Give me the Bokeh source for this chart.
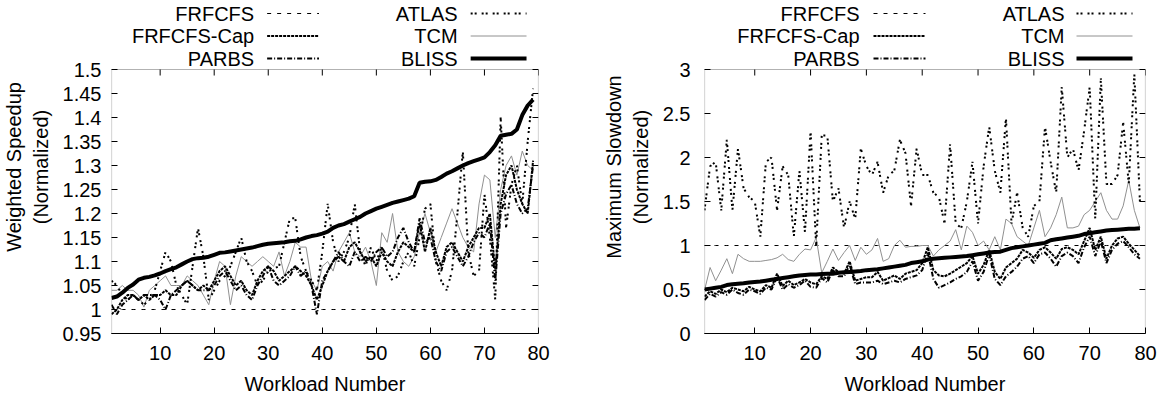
from bokeh.plotting import figure
from bokeh.models import Range1d, FixedTicker, BoxAnnotation, ColumnDataSource
from bokeh.core.properties import value
from bokeh.layouts import row
from bokeh.embed import file_html
from bokeh.resources import INLINE

FONT = "Liberation Sans"
FS = "20px"

workloads = list(range(1, 80))
x_ticks = [10, 20, 30, 40, 50, 60, 70, 80]

ws_ticks = [0.95, 1.0, 1.05, 1.1, 1.15, 1.2, 1.25, 1.3, 1.35, 1.4, 1.45, 1.5]
ws_tick_labels = ["0.95", "1", "1.05", "1.1", "1.15", "1.2", "1.25", "1.3", "1.35", "1.4", "1.45", "1.5"]
ms_ticks = [0, 0.5, 1, 1.5, 2, 2.5, 3]
ms_tick_labels = ["0", "0.5", "1", "1.5", "2", "2.5", "3"]

# ---------------- Weighted speedup (normalized) ----------------
ws_frfcfs = [1.0, 1.0, 1.0, 1.0, 1.0, 1.0, 1.0, 1.0, 1.0, 1.0,
             1.0, 1.0, 1.0, 1.0, 1.0, 1.0, 1.0, 1.0, 1.0, 1.0,
             1.0, 1.0, 1.0, 1.0, 1.0, 1.0, 1.0, 1.0, 1.0, 1.0,
             1.0, 1.0, 1.0, 1.0, 1.0, 1.0, 1.0, 1.0, 1.0, 1.0,
             1.0, 1.0, 1.0, 1.0, 1.0, 1.0, 1.0, 1.0, 1.0, 1.0,
             1.0, 1.0, 1.0, 1.0, 1.0, 1.0, 1.0, 1.0, 1.0, 1.0,
             1.0, 1.0, 1.0, 1.0, 1.0, 1.0, 1.0, 1.0, 1.0, 1.0,
             1.0, 1.0, 1.0, 1.0, 1.0, 1.0, 1.0, 1.0, 1.0]
ws_cap = [0.99, 1.00, 1.02, 1.03, 1.03, 1.02, 1.03, 1.02, 1.03, 1.03,
          1.04, 1.03, 1.03, 1.05, 1.06, 1.05, 1.04, 1.05, 1.04, 1.06,
          1.08, 1.09, 1.07, 1.05, 1.06, 1.04, 1.03, 1.06, 1.08, 1.09,
          1.08, 1.06, 1.07, 1.08, 1.09, 1.08, 1.07, 1.05, 1.02, 1.05,
          1.08, 1.10, 1.11, 1.10, 1.13, 1.14, 1.12, 1.10, 1.11, 1.09,
          1.12, 1.10, 1.09, 1.12, 1.14, 1.13, 1.12, 1.18, 1.12, 1.17,
          1.12, 1.09, 1.13, 1.14, 1.12, 1.10, 1.13, 1.15, 1.17, 1.17,
          1.20, 1.08, 1.22, 1.28, 1.30, 1.25, 1.22, 1.20, 1.31]
ws_parbs = [1.01, 0.99, 1.01, 1.02, 1.03, 1.02, 1.03, 1.03, 1.03, 1.02,
            1.00, 1.03, 1.04, 1.05, 1.06, 1.05, 1.04, 1.04, 1.04, 1.05,
            1.07, 1.08, 1.06, 1.04, 1.05, 1.03, 1.02, 1.05, 1.07, 1.09,
            1.06, 1.05, 1.06, 1.07, 1.09, 1.07, 1.08, 1.05, 0.99, 1.06,
            1.08, 1.10, 1.12, 1.10, 1.09, 1.12, 1.10, 1.11, 1.10, 1.12,
            1.13, 1.11, 1.12, 1.15, 1.17, 1.14, 1.12, 1.19, 1.14, 1.15,
            1.10, 1.08, 1.12, 1.13, 1.11, 1.09, 1.11, 1.14, 1.16, 1.15,
            1.18, 1.06, 1.20, 1.24, 1.26, 1.22, 1.20, 1.21, 1.30]
ws_atlas = [1.06, 1.05, 1.03, 1.02, 1.03, 1.02, 1.01, 1.02, 1.04, 1.08,
            1.12, 1.10, 1.05, 1.03, 1.01, 1.09, 1.17, 1.11, 1.02, 1.04,
            1.06, 1.07, 1.09, 1.12, 1.15, 1.10, 1.08, 1.05, 1.06, 1.08,
            1.085, 1.09, 1.14, 1.19, 1.19, 1.11, 1.08, 1.06, 1.04, 1.12,
            1.22, 1.14, 1.10, 1.12, 1.15, 1.22, 1.12, 1.09, 1.13, 1.10,
            1.13, 1.08, 1.06, 1.07, 1.10, 1.12, 1.09, 1.15, 1.21, 1.22,
            1.10, 1.06, 1.04, 1.08, 1.20, 1.33, 1.12, 1.07, 1.08, 1.24,
            1.15, 1.02, 1.40, 1.17, 1.26, 1.30, 1.22, 1.35, 1.46]
ws_tcm = [1.04, 1.04, 1.05, 1.04, 1.04, 1.03, 1.005, 1.04, 1.05, 1.06,
          1.07, 1.05, 1.05, 1.05, 1.07, 1.06, 1.05, 1.03, 1.01, 1.06,
          1.10, 1.09, 1.01, 1.07, 1.11, 1.10, 1.09, 1.10, 1.11, 1.10,
          1.09, 1.12, 1.07, 1.10, 1.14, 1.13, 1.13, 1.06, 1.04, 1.09,
          1.10, 1.08, 1.12, 1.14, 1.16, 1.12, 1.11, 1.13, 1.10, 1.05,
          1.16, 1.14, 1.20, 1.12, 1.10, 1.09, 1.11, 1.16, 1.20, 1.16,
          1.12, 1.15, 1.18, 1.21, 1.18, 1.15, 1.13, 1.12, 1.22, 1.28,
          1.27, 1.15, 1.25, 1.30, 1.32, 1.28, 1.33, 1.30, 1.29]
ws_bliss = [1.024, 1.027, 1.035, 1.045, 1.052, 1.062, 1.066, 1.068, 1.071, 1.075,
            1.080, 1.084, 1.088, 1.094, 1.100, 1.105, 1.107, 1.108, 1.110, 1.114,
            1.118, 1.119, 1.121, 1.123, 1.125, 1.127, 1.129, 1.132, 1.135, 1.137,
            1.138, 1.139, 1.140, 1.142, 1.143, 1.146, 1.150, 1.153, 1.155, 1.158,
            1.162, 1.170, 1.175, 1.178, 1.183, 1.188, 1.193, 1.200, 1.205, 1.210,
            1.214, 1.218, 1.222, 1.225, 1.228, 1.231, 1.236, 1.264, 1.266, 1.267,
            1.270, 1.276, 1.283, 1.288, 1.294, 1.300, 1.305, 1.309, 1.313, 1.317,
            1.328, 1.342, 1.362, 1.364, 1.366, 1.375, 1.405, 1.425, 1.437]

# ---------------- Maximum slowdown (normalized) ----------------
ms_frfcfs = [1.0, 1.0, 1.0, 1.0, 1.0, 1.0, 1.0, 1.0, 1.0, 1.0,
             1.0, 1.0, 1.0, 1.0, 1.0, 1.0, 1.0, 1.0, 1.0, 1.0,
             1.0, 1.0, 1.0, 1.0, 1.0, 1.0, 1.0, 1.0, 1.0, 1.0,
             1.0, 1.0, 1.0, 1.0, 1.0, 1.0, 1.0, 1.0, 1.0, 1.0,
             1.0, 1.0, 1.0, 1.0, 1.0, 1.0, 1.0, 1.0, 1.0, 1.0,
             1.0, 1.0, 1.0, 1.0, 1.0, 1.0, 1.0, 1.0, 1.0, 1.0,
             1.0, 1.0, 1.0, 1.0, 1.0, 1.0, 1.0, 1.0, 1.0, 1.0,
             1.0, 1.0, 1.0, 1.0, 1.0, 1.0, 1.0, 1.0, 1.0]
ms_cap = [0.42, 0.48, 0.45, 0.50, 0.47, 0.52, 0.50, 0.48, 0.53, 0.50,
          0.48, 0.55, 0.52, 0.68, 0.54, 0.60, 0.55, 0.58, 0.62, 0.58,
          0.56, 0.65, 0.62, 0.75, 0.70, 0.68, 0.82, 0.60, 0.62, 0.64,
          0.64, 0.70, 0.60, 0.63, 0.66, 0.62, 0.68, 0.70, 0.72, 0.80,
          0.98, 0.72, 0.66, 0.65, 0.68, 0.72, 0.76, 0.80, 0.88, 0.68,
          0.78, 0.95, 0.70, 0.62, 0.75, 0.80, 0.85, 0.95, 0.92, 0.86,
          0.95, 0.98, 0.92, 0.85, 0.96, 0.98, 0.95, 0.90, 1.05, 1.20,
          0.95, 1.10, 0.85, 1.00, 1.08, 1.10, 1.02, 0.95, 0.88]
ms_parbs = [0.38, 0.45, 0.42, 0.47, 0.44, 0.50, 0.46, 0.44, 0.50, 0.48,
            0.45, 0.52, 0.50, 0.64, 0.50, 0.56, 0.52, 0.55, 0.60, 0.53,
            0.52, 0.63, 0.58, 0.72, 0.65, 0.65, 0.78, 0.56, 0.58, 0.58,
            0.58, 0.60, 0.56, 0.58, 0.60, 0.58, 0.62, 0.64, 0.66, 0.72,
            0.92, 0.62, 0.52, 0.55, 0.58, 0.62, 0.65, 0.70, 0.82, 0.60,
            0.70, 0.90, 0.62, 0.55, 0.65, 0.70, 0.76, 0.85, 0.88, 0.80,
            0.90, 0.92, 0.85, 0.76, 0.88, 0.92, 0.88, 0.80, 0.98, 1.10,
            0.88, 1.05, 0.80, 0.95, 1.02, 1.05, 0.98, 0.90, 0.85]
ms_atlas = [1.40, 1.90, 1.95, 1.40, 2.20, 1.40, 2.10, 1.65, 1.55, 1.50,
            1.10, 1.95, 2.00, 1.40, 1.90, 1.80, 1.10, 1.85, 1.15, 2.30,
            1.00, 2.25, 2.25, 1.50, 1.65, 1.20, 1.50, 1.30, 2.10, 1.90,
            1.80, 1.95, 1.60, 1.80, 1.85, 2.20, 2.05, 1.45, 2.10, 1.80,
            1.80, 1.60, 1.55, 1.25, 2.15, 1.25, 1.20, 1.50, 1.95, 1.25,
            1.90, 2.35, 1.85, 1.60, 2.45, 1.25, 1.60, 1.20, 1.10, 1.45,
            1.50, 2.35, 1.95, 1.60, 2.80, 2.00, 2.10, 1.85, 2.30, 2.80,
            1.30, 2.90, 1.70, 1.70, 1.80, 2.40, 1.70, 2.95, 1.50]
ms_tcm = [0.49, 0.75, 0.60, 0.72, 0.85, 0.68, 0.90, 0.85, 0.82, 0.82,
          0.82, 0.83, 0.84, 0.86, 0.90, 0.84, 0.82, 0.90, 0.96, 0.95,
          1.09, 0.69, 0.82, 0.96, 0.83, 0.92, 1.00, 0.83, 0.98, 0.90,
          0.95, 1.08, 0.82, 0.85, 1.00, 1.06, 0.98, 0.99, 0.99, 1.00,
          1.00, 0.88, 0.95, 1.00, 1.05, 1.18, 0.95, 1.22, 1.15, 1.00,
          1.05, 0.95, 1.10, 0.95, 1.30, 1.25, 1.10, 1.05, 1.00, 1.20,
          1.40, 1.10, 1.20, 1.35, 1.55, 1.20, 1.20, 1.22, 1.35, 1.40,
          1.50, 1.60, 1.40, 1.30, 1.30, 1.45, 1.74, 1.40, 1.20]
ms_bliss = [0.50, 0.51, 0.52, 0.53, 0.55, 0.56, 0.565, 0.57, 0.58, 0.585,
            0.59, 0.60, 0.61, 0.62, 0.63, 0.64, 0.65, 0.66, 0.665, 0.67,
            0.67, 0.675, 0.68, 0.68, 0.69, 0.695, 0.70, 0.705, 0.71, 0.72,
            0.725, 0.73, 0.74, 0.75, 0.76, 0.77, 0.78, 0.80, 0.81, 0.82,
            0.84, 0.85, 0.855, 0.86, 0.865, 0.87, 0.875, 0.88, 0.89, 0.90,
            0.91, 0.92, 0.925, 0.93, 0.95, 0.97, 0.98, 0.99, 1.00, 1.01,
            1.02, 1.03, 1.06, 1.07, 1.08, 1.09, 1.10, 1.11, 1.13, 1.14,
            1.15, 1.16, 1.17, 1.175, 1.18, 1.185, 1.19, 1.19, 1.195]

STYLES = {
    "FRFCFS": dict(line_color="black", line_width=1, line_dash="4 6"),
    "FRFCFS-Cap": dict(line_color="black", line_width=2, line_dash="3 1"),
    "PARBS": dict(line_color="black", line_width=2, line_dash="5 2 1 2"),
    "ATLAS": dict(line_color="black", line_width=2, line_dash="2 2 2 5"),
    "TCM": dict(line_color="#909090", line_width=1),
    "BLISS": dict(line_color="black", line_width=4),
}
DRAW_ORDER = ["FRFCFS", "TCM", "ATLAS", "FRFCFS-Cap", "PARBS", "BLISS"]
LEGEND_COLS = [["FRFCFS", "FRFCFS-Cap", "PARBS"], ["ATLAS", "TCM", "BLISS"]]

H = 402
BOTTOM = 69          # bottom border (px)
BOX_TOP_PX = 69      # page y of the top edge of the plot box
LEG_ROWS_PX = [13, 35.5, 58]
TICK_PX = 6


def style_axis(ax, ticks, overrides=None):
    ax.ticker = FixedTicker(ticks=ticks)
    if overrides is not None:
        ax.major_label_overrides = overrides
    ax.major_tick_in = TICK_PX
    ax.major_tick_out = 0
    ax.minor_tick_line_color = None
    ax.major_tick_line_color = "black"
    ax.major_label_text_font = FONT
    ax.major_label_text_font_size = FS
    ax.major_label_text_color = "black"
    ax.axis_label_text_font = FONT
    ax.axis_label_text_font_size = FS
    ax.axis_label_text_font_style = "normal"
    ax.axis_label_text_color = "black"


def make_panel(data, y_lo, y_hi, yticks, ylabels, ylabel, width, left, right,
               leg_text_px, leg_line_px, ystand):
    frame_w = width - left - right
    frame_h = H - BOTTOM
    ppu_y = (frame_h - BOX_TOP_PX) / (y_hi - y_lo)
    y_ext = y_lo + frame_h / ppu_y          # frame extends above the box for the key
    ppu_x = frame_w / 79.0

    def dx(px):
        return 1 + (px - left) / ppu_x

    def dy(py):
        return y_lo + (frame_h - py) / ppu_y

    p = figure(width=width, height=H, output_backend="svg", toolbar_location=None,
               x_range=Range1d(1, 80), y_range=Range1d(y_lo, y_ext),
               min_border_left=left, min_border_right=right,
               min_border_top=0, min_border_bottom=BOTTOM,
               x_axis_label="Workload Number", y_axis_label=ylabel)
    p.title.visible = False
    p.grid.visible = False
    p.outline_line_color = None
    p.background_fill_color = "white"
    p.border_fill_color = "white"

    style_axis(p.xaxis[0], x_ticks)
    style_axis(p.yaxis[0], yticks, dict(zip(yticks, ylabels)))
    p.xaxis[0].axis_line_color = "black"
    p.xaxis[0].major_label_standoff = 12
    p.xaxis[0].axis_label_standoff = 10
    p.yaxis[0].axis_line_color = None
    p.yaxis[0].major_label_standoff = ystand
    p.yaxis[0].axis_label_standoff = 8

    # plot box
    p.add_layout(BoxAnnotation(left=1, right=80, bottom=y_lo, top=y_hi,
                               fill_color=None, line_color="black", line_width=1.2))
    # mirrored ticks on top and right edges
    tick_dy = TICK_PX / ppu_y
    tick_dx = TICK_PX / ppu_x
    top_src = ColumnDataSource(dict(x=x_ticks, y0=[y_hi] * len(x_ticks),
                                    y1=[y_hi - tick_dy] * len(x_ticks)))
    p.segment(x0="x", y0="y0", x1="x", y1="y1", source=top_src, line_color="black", line_width=1)
    right_src = ColumnDataSource(dict(y=yticks, x0=[80] * len(yticks),
                                      x1=[80 - tick_dx] * len(yticks)))
    p.segment(x0="x0", y0="y", x1="x1", y1="y", source=right_src, line_color="black", line_width=1)

    for name in DRAW_ORDER:
        p.line(workloads, data[name], **STYLES[name])

    # key above the box
    for ci, col in enumerate(LEGEND_COLS):
        for ri, name in enumerate(col):
            yy = dy(LEG_ROWS_PX[ri])
            p.text(x=[dx(leg_text_px[ci])], y=[yy], text=[name],
                   text_align="right", text_baseline="middle",
                   text_font=value(FONT), text_font_size=value(FS), text_color="black")
            p.segment(x0=dx(leg_line_px[ci][0]), y0=yy, x1=dx(leg_line_px[ci][1]), y1=yy,
                      **STYLES[name])
    return p


ws_data = {"FRFCFS": ws_frfcfs, "FRFCFS-Cap": ws_cap, "PARBS": ws_parbs,
           "ATLAS": ws_atlas, "TCM": ws_tcm, "BLISS": ws_bliss}
ms_data = {"FRFCFS": ms_frfcfs, "FRFCFS-Cap": ms_cap, "PARBS": ms_parbs,
           "ATLAS": ms_atlas, "TCM": ms_tcm, "BLISS": ms_bliss}

p1 = make_panel(ws_data, 0.95, 1.5, ws_ticks, ws_tick_labels,
                "Weighted Speedup\n(Normalized)", 600, 110, 62,
                [253, 457], [(266, 318), (470, 526)], 10)
p2 = make_panel(ms_data, 0, 3, ms_ticks, ms_tick_labels,
                "Maximum Slowdown\n(Normalized)", 565, 104, 20,
                [259, 464], [(273, 325), (476, 532)], 14)

layout = row(p1, p2)
open("out.html", "w").write(file_html(layout, INLINE))
